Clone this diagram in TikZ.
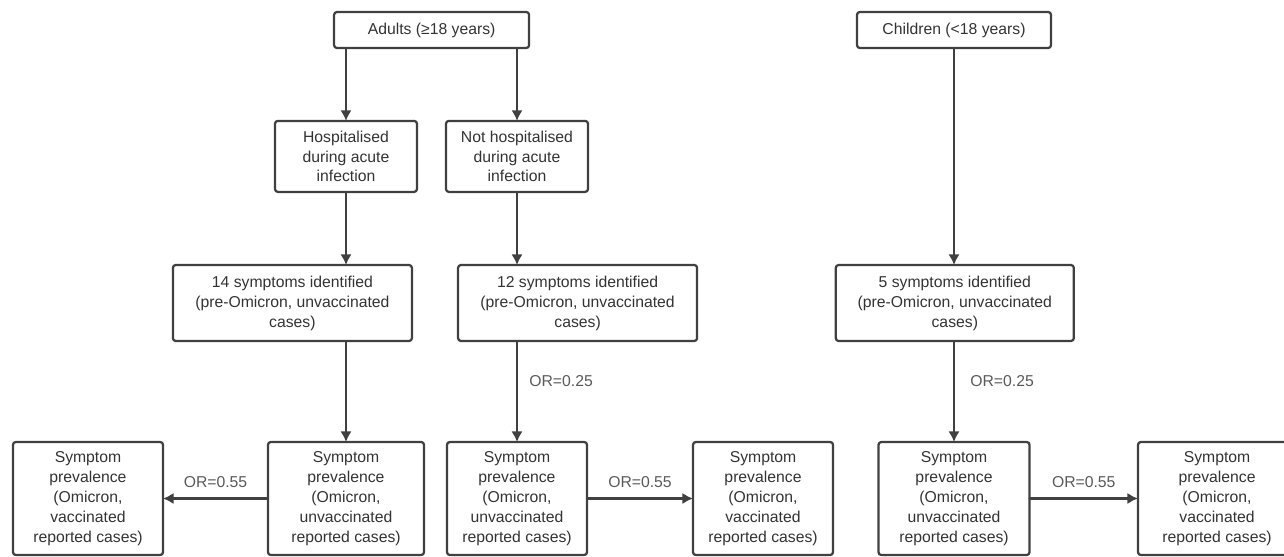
\documentclass[tikz,border=0pt]{standalone}
\usepackage{fontspec}
\setmainfont{Liberation Sans}
\usetikzlibrary{arrows.meta}
\definecolor{boxline}{HTML}{404040}
\definecolor{txt}{HTML}{333333}
\definecolor{orgray}{HTML}{5A5A5A}
\begin{document}
\begin{tikzpicture}[line cap=round, line join=round,
    font=\fontsize{11.2}{14.2}\selectfont,
    box/.style={draw=boxline, line width=1.6pt, rounded corners=2pt,
      align=center, text=txt, inner sep=2pt, outer sep=0pt},
    prev/.style={box, minimum height=2.825cm},
    arr/.style={draw=boxline, line width=1.6pt, -{Latex[length=7.5pt,width=8pt]}},
    orlab/.style={text=orgray, inner sep=0pt}]
  \clip (0,0) rectangle (32.1,13.9);
  \node[box, minimum width=4.875cm, minimum height=0.9cm] (adult) at (10.79,13.15) {Adults (≥18 years)};
  \node[box, minimum width=4.85cm, minimum height=0.9cm] (child) at (23.85,13.15) {Children (<18 years)};
  \node[box, minimum width=3.55cm, minimum height=1.775cm] (hosp) at (8.65,9.99) {Hospitalised\\during acute\\infection};
  \node[box, minimum width=3.55cm, minimum height=1.775cm] (nhosp) at (12.925,9.99) {Not hospitalised\\during acute\\infection};
  \node[box, minimum width=5.975cm, minimum height=1.9cm] (s14) at (7.31,6.325) {14 symptoms identified\\(pre-Omicron, unvaccinated\\cases)};
  \node[box, minimum width=5.975cm, minimum height=1.9cm] (s12) at (14.44,6.325) {12 symptoms identified\\(pre-Omicron, unvaccinated\\cases)};
  \node[box, minimum width=5.95cm, minimum height=1.9cm] (s5) at (23.87,6.325) {5 symptoms identified\\(pre-Omicron, unvaccinated\\cases)};
  \node[prev, minimum width=3.75cm] (pa) at (2.2,1.4375) {Symptom\\prevalence\\(Omicron,\\vaccinated\\reported cases)};
  \node[prev, minimum width=3.9cm] (pb) at (8.65,1.4375) {Symptom\\prevalence\\(Omicron,\\unvaccinated\\reported cases)};
  \node[prev, minimum width=3.5cm] (pc) at (12.925,1.4375) {Symptom\\prevalence\\(Omicron,\\unvaccinated\\reported cases)};
  \node[prev, minimum width=3.5cm] (pd) at (19.075,1.4375) {Symptom\\prevalence\\(Omicron,\\vaccinated\\reported cases)};
  \node[prev, minimum width=3.775cm] (pe) at (23.85,1.4375) {Symptom\\prevalence\\(Omicron,\\unvaccinated\\reported cases)};
  \node[prev, minimum width=3.95cm] (pf) at (30.425,1.4375) {Symptom\\prevalence\\(Omicron,\\vaccinated\\reported cases)};
  % adults
  \draw[arr] (adult.south -| hosp) -- (hosp);
  \draw[arr] (adult.south -| nhosp) -- (nhosp);
  \draw[arr] (hosp) -- (hosp |- s14.north);
  \draw[arr] (nhosp) -- (nhosp |- s12.north);
  \draw[arr] (s14.south -| pb) -- (pb);
  \draw[arr] (s12.south -| pc) -- (pc) node[orlab, pos=0.4, right=0.28cm] {OR=0.25};
  \draw[arr] (pb) -- (pa) node[orlab, midway, above=7pt] {OR=0.55};
  \draw[arr] (pc) -- (pd) node[orlab, midway, above=7pt] {OR=0.55};
  % children
  \draw[arr] (child) -- (child |- s5.north);
  \draw[arr] (s5.south -| pe) -- (pe) node[orlab, pos=0.4, right=0.38cm] {OR=0.25};
  \draw[arr] (pe) -- (pf) node[orlab, midway, above=7pt] {OR=0.55};
\end{tikzpicture}
\end{document}
